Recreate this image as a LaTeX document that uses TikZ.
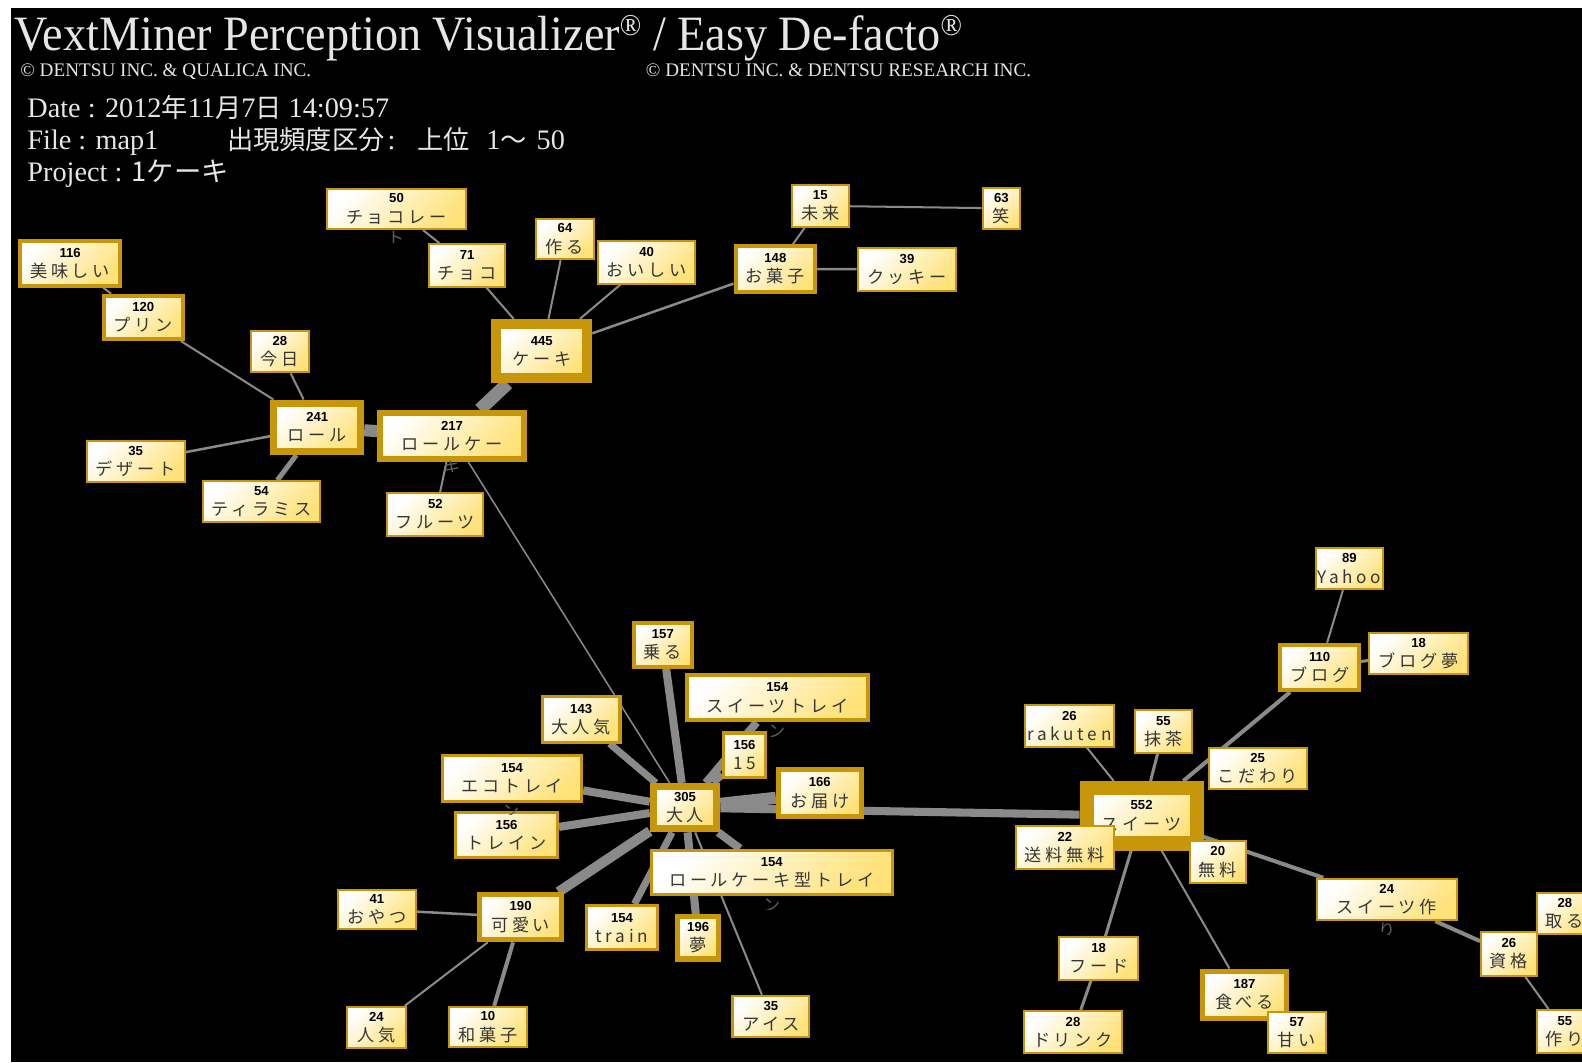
\documentclass[tikz,border=0pt]{standalone}
\usepackage{fontspec}
\setmainfont{Liberation Serif}
\newfontfamily\titlefont[FakeStretch=0.935]{Liberation Serif}
\newfontfamily\jpfont{Noto Sans CJK JP}
\newfontfamily\kwfont[LetterSpace=22]{Noto Sans CJK JP}
\newfontfamily\kwnumfont{Liberation Sans}
\definecolor{kwgold}{HTML}{C8960A}
\definecolor{kwyellow}{HTML}{FFE27A}
\definecolor{kwtext}{HTML}{363636}
\definecolor{edgegray}{HTML}{8A8A8A}
\definecolor{headgray}{HTML}{E6E6E6}
\newcommand{\kwn}[1]{{\kwnumfont\bfseries\fontsize{13}{13}\selectfont\color{black}#1}}
\newcommand{\hj}[1]{{\jpfont\fontsize{26}{26}\selectfont #1}}
\newcommand{\regmark}{{\fontsize{30}{30}\selectfont\raisebox{15pt}{®}}}
\pgfdeclarelayer{bg}
\pgfdeclarelayer{edges}
\pgfsetlayers{bg,edges,main}
\tikzset{
  kw/.style={draw=kwgold, line width=#1, top color=white, bottom color=kwyellow,
    shading angle=45, inner sep=0pt, align=center, text=kwtext,
    font=\kwfont\fontsize{17}{20}\selectfont},
  kw/.default=2,
  kwtail/.style={inner sep=0pt, text=kwtext!80, font=\kwfont\fontsize{17}{20}\selectfont},
  edge/.style={draw=edgegray, line width=#1},
  edge/.default=2,
  head/.style={anchor=base west, inner sep=0pt, text=headgray},
}
\begin{document}
\begin{tikzpicture}[x=1pt,y=-1pt]
  \useasboundingbox (0,0) rectangle (1568,1053);
  \begin{pgfonlayer}{bg}
    \fill[white] (0,0) rectangle (1568,1053);
    \fill[black] (11,8) rectangle (1568,1053);
  \end{pgfonlayer}

  % Header
  \node[head, font=\titlefont\fontsize{49}{49}\selectfont] (title) at (14,50)
    {VextMiner Perception Visualizer\regmark{} / Easy De-facto\regmark};
  \node[head, font=\fontsize{19}{19}\selectfont] (copyq) at (20,76) {© DENTSU INC. \& QUALICA INC.};
  \node[head, font=\fontsize{19}{19}\selectfont] (copyr) at (640,76) {© DENTSU INC. \& DENTSU RESEARCH INC.};
  \node[head, font=\fontsize{28}{28}\selectfont] (date) at (27,116)
    {Date : 2012\hj{年}11\hj{月}7\hj{日} 14:09:57};
  \node[head, font=\fontsize{28}{28}\selectfont] (file) at (27,148) {File : map1};
  \node[head, font=\fontsize{28}{28}\selectfont] (range) at (225,148)
    {\hj{出現頻度区分}\hspace{3pt}:\hspace{22pt}\hj{上位}\hspace{16pt}1\hj{～}\hspace{10pt}50};
  \node[head, font=\fontsize{28}{28}\selectfont] (project) at (27,180)
    {Project : {\jpfont\fontsize{27}{27}\selectfont 1ケーキ}};

  % Cake cluster
  \node[kw, minimum width=138, minimum height=40] (chocolate) at (393,207) {\kwn{50}\\チョコレー};
  \node[kw=4, minimum width=99, minimum height=44] (umai) at (69.5,261) {\kwn{116}\\美味しい};
  \node[kw=4, minimum width=78, minimum height=43] (purin) at (142,314.5) {\kwn{120}\\プリン};
  \node[kw, minimum width=57, minimum height=41] (kyou) at (277.5,348.5) {\kwn{28}\\今日};
  \node[kw=7, minimum width=86, minimum height=48] (roll) at (314.5,423.5) {\kwn{241}\\ロール};
  \node[kw=6, minimum width=142, minimum height=46] (rollcake) at (448,432) {\kwn{217}\\ロールケー};
  \node[kw, minimum width=97, minimum height=41] (dessert) at (134.5,457.5) {\kwn{35}\\デザート};
  \node[kw, minimum width=116, minimum height=40] (tiramisu) at (259,497) {\kwn{54}\\ティラミス};
  \node[kw, minimum width=95, minimum height=42] (fruit) at (431.5,510) {\kwn{52}\\フルーツ};
  \node[kw, minimum width=76, minimum height=42] (choco) at (463,263) {\kwn{71}\\チョコ};
  \node[kw, minimum width=58, minimum height=40] (tsukuru) at (560,237) {\kwn{64}\\作る};
  \node[kw, minimum width=96, minimum height=42] (oishii) at (641,260) {\kwn{40}\\おいしい};
  \node[kw=10, minimum width=90, minimum height=54] (cake) at (537,348) {\kwn{445}\\ケーキ};
  \node[kw, minimum width=56, minimum height=42] (mirai) at (813,204) {\kwn{15}\\未来};
  \node[kw, minimum width=37, minimum height=41] (warai) at (992.5,206.5) {\kwn{63}\\笑};
  \node[kw=4, minimum width=79, minimum height=45] (okashi) at (768.5,266.5) {\kwn{148}\\お菓子};
  \node[kw, minimum width=98, minimum height=42] (cookie) at (899,267) {\kwn{39}\\クッキー};

  % Otona cluster
  \node[kw=4, minimum width=58, minimum height=44] (noru) at (657,639) {\kwn{157}\\乗る};
  \node[kw=4, minimum width=179, minimum height=45] (sweetstray) at (770.5,691.5) {\kwn{154}\\スイーツトレイ};
  \node[kw=3, minimum width=77, minimum height=45] (otonaki) at (576,713) {\kwn{143}\\大人気};
  \node[kw=3, minimum width=41, minimum height=44] (fifteen) at (738,748.5) {\kwn{156}\\15};
  \node[kw=3, minimum width=138, minimum height=46] (ecotray) at (507.5,771.5) {\kwn{154}\\エコトレイ};
  \node[kw=5, minimum width=82, minimum height=47] (otodoke) at (812.5,786) {\kwn{166}\\お届け};
  \node[kw=7, minimum width=63, minimum height=42] (otona) at (679,800.5) {\kwn{305}\\大人};
  \node[kw=3, minimum width=101, minimum height=44] (trainkana) at (502,827.5) {\kwn{156}\\トレイン};
  \node[kw=3, minimum width=239, minimum height=44] (rolltray) at (765,864.5) {\kwn{154}\\ロールケーキ型トレイ};
  \node[kw, minimum width=77, minimum height=39] (oyatsu) at (373.5,901.5) {\kwn{41}\\おやつ};
  \node[kw=5, minimum width=81, minimum height=45] (kawaii) at (516,909) {\kwn{190}\\可愛い};
  \node[kw=3, minimum width=70, minimum height=44] (train) at (616.5,919.5) {\kwn{154}\\train};
  \node[kw=5, minimum width=41, minimum height=42] (yume) at (692,929.5) {\kwn{196}\\夢};
  \node[kw, minimum width=58, minimum height=41] (ninki) at (373,1018.5) {\kwn{24}\\人気};
  \node[kw, minimum width=77, minimum height=40] (wagashi) at (483.5,1018) {\kwn{10}\\和菓子};
  \node[kw, minimum width=76, minimum height=41] (ice) at (764,1007.5) {\kwn{35}\\アイス};

  % Sweets cluster
  \node[kw, minimum width=67, minimum height=41] (yahoo) at (1337.5,563.5) {\kwn{89}\\Yahoo};
  \node[kw=4, minimum width=78, minimum height=45] (blog) at (1308,661.5) {\kwn{110}\\ブログ};
  \node[kw, minimum width=98, minimum height=41] (blogyume) at (1406,647.5) {\kwn{18}\\ブログ夢};
  \node[kw, minimum width=88, minimum height=41] (rakuten) at (1060,719.5) {\kwn{26}\\rakuten};
  \node[kw, minimum width=56, minimum height=42] (matcha) at (1153,725) {\kwn{55}\\抹茶};
  \node[kw, minimum width=97, minimum height=41] (kodawari) at (1246.5,761.5) {\kwn{25}\\こだわり};
  \node[kw=14, minimum width=109, minimum height=55] (sweets) at (1131.5,808.5) {\kwn{552}\\スイーツ};
  \node[kw, minimum width=97, minimum height=42] (souryou) at (1055.5,840) {\kwn{22}\\送料無料};
  \node[kw, minimum width=56, minimum height=41] (muryou) at (1207,854.5) {\kwn{20}\\無料};
  \node[kw, minimum width=139, minimum height=41] (sweetsmake) at (1374.5,891.5) {\kwn{24}\\スイーツ作};
  \node[kw, minimum width=56, minimum height=41] (toru) at (1551,905.5) {\kwn{28}\\取る};
  \node[kw, minimum width=55, minimum height=43] (shikaku) at (1495.5,945.5) {\kwn{26}\\資格};
  \node[kw, minimum width=78, minimum height=42] (food) at (1089,950) {\kwn{18}\\フード};
  \node[kw=5, minimum width=84, minimum height=47] (taberu) at (1233.5,986) {\kwn{187}\\食べる};
  \node[kw, minimum width=57, minimum height=41] (amai) at (1285.5,1023.5) {\kwn{57}\\甘い};
  \node[kw, minimum width=97, minimum height=42] (drink) at (1063.5,1023) {\kwn{28}\\ドリンク};
  \node[kw, minimum width=56, minimum height=43] (tsukuri) at (1551,1022.5) {\kwn{55}\\作り};

  % Wrapped label ends peeking out under their boxes
  \begin{scope}
    \clip (380,226) rectangle (406,240);
    \node[kwtail] (chocolate-tail) at (393,236) {ト};
  \end{scope}
  \begin{scope}
    \clip (435,452) rectangle (461,467);
    \node[kwtail] (rollcake-tail) at (448,464) {キ};
  \end{scope}
  \begin{scope}
    \clip (757,714) rectangle (783,730);
    \node[kwtail] (sweetstray-tail) at (770,725) {ン};
  \end{scope}
  \begin{scope}
    \clip (494,794) rectangle (520,807);
    \node[kwtail] (ecotray-tail) at (507,804) {ン};
  \end{scope}
  \begin{scope}
    \clip (752,886) rectangle (778,901);
    \node[kwtail] (rolltray-tail) at (765,897) {ン};
  \end{scope}
  \begin{scope}
    \clip (1362,911) rectangle (1388,926);
    \node[kwtail] (sweetsmake-tail) at (1375,922) {り};
  \end{scope}

  % Links
  \begin{pgfonlayer}{edges}
    \draw[edge] (chocolate) -- (choco);
    \draw[edge] (umai) -- (purin);
    \draw[edge] (purin) -- (roll);
    \draw[edge] (kyou) -- (roll);
    \draw[edge=12] (roll) -- (rollcake);
    \draw[edge=2.5] (dessert) -- (roll);
    \draw[edge=5] (tiramisu) -- (roll);
    \draw[edge=13] (rollcake) -- (cake);
    \draw[edge] (rollcake) -- (fruit);
    \draw[edge=1.5] (rollcake) -- (otona);
    \draw[edge] (choco) -- (cake);
    \draw[edge] (tsukuru) -- (cake);
    \draw[edge] (oishii) -- (cake);
    \draw[edge=2.5] (okashi) -- (cake);
    \draw[edge] (mirai) -- (okashi);
    \draw[edge] (mirai) -- (warai);
    \draw[edge=2.5] (okashi) -- (cookie);
    \draw[edge=8] (otona) -- (noru);
    \draw[edge=8] (otona) -- (sweetstray);
    \draw[edge=7] (otona) -- (otonaki);
    \draw[edge=7] (otona) -- (fifteen);
    \draw[edge=8] (otona) -- (ecotray);
    \draw[edge=12] (otona) -- (otodoke);
    \draw[edge=8] (otona) -- (sweets);
    \draw[edge=8] (otona) -- (trainkana);
    \draw[edge=8] (otona) -- (rolltray);
    \draw[edge=10] (otona) -- (kawaii);
    \draw[edge=7] (otona) -- (train);
    \draw[edge=8] (otona) -- (yume);
    \draw[edge] (otona) -- (ice);
    \draw[edge=2.5] (kawaii) -- (oyatsu);
    \draw[edge] (kawaii) -- (ninki);
    \draw[edge=4] (kawaii) -- (wagashi);
    \draw[edge=4] (sweets) -- (blog);
    \draw[edge] (blog) -- (yahoo);
    \draw[edge=3] (blog) -- (blogyume);
    \draw[edge] (sweets) -- (rakuten);
    \draw[edge=3] (sweets) -- (matcha);
    \draw[edge=4] (sweets) -- (sweetsmake);
    \draw[edge=4] (sweetsmake) -- (shikaku);
    \draw[edge] (shikaku) -- (tsukuri);
    \draw[edge] (shikaku) -- (toru);
    \draw[edge=3] (sweets) -- (food);
    \draw[edge=3] (food) -- (drink);
    \draw[edge] (sweets) -- (taberu);
    \draw[edge] (taberu) -- (amai);
  \end{pgfonlayer}
\end{tikzpicture}
\end{document}
